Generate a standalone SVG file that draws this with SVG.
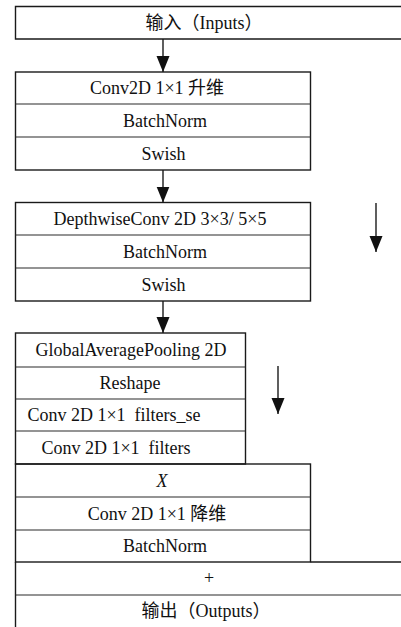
<svg xmlns="http://www.w3.org/2000/svg" width="401" height="627" viewBox="0 0 401 627">
<defs>
<style>
.ln{fill:none;stroke:#1a1a1a;stroke-width:1.4}
.sep{fill:none;stroke:#2a2a2a;stroke-width:1.2}
.t{font-family:"Liberation Serif","Noto Sans CJK SC",serif;font-size:18px;fill:#111;text-anchor:middle;white-space:pre}
.it{font-style:italic}
</style>
<marker id="ah" markerUnits="userSpaceOnUse" markerWidth="17" markerHeight="14" refX="16" refY="6.5" orient="auto">
<path d="M0,0 L16,6.5 L0,13 z" fill="#111"/>
</marker>
</defs>
<rect width="401" height="627" fill="#fff"/>
<g id="inputs">
<path class="ln" d="M401,6.5 H15.5 V39 H401"/>
<text class="t" x="204" y="28.5">输入（Inputs）</text>
</g>
<g id="expand">
<rect class="ln" x="15.5" y="72" width="295" height="98"/>
<path class="sep" d="M15.5,104 H310.5 M15.5,137 H310.5"/>
<text class="t" x="157" y="94">Conv2D 1×1 升维</text>
<text class="t" x="165" y="126.5">BatchNorm</text>
<text class="t" x="163.5" y="159.5">Swish</text>
</g>
<g id="depthwise">
<rect class="ln" x="15.5" y="202.5" width="295" height="98.5"/>
<path class="sep" d="M15.5,235 H310.5 M15.5,268 H310.5"/>
<text class="t" x="160" y="224.5">DepthwiseConv 2D 3×3/ 5×5</text>
<text class="t" x="165" y="257.5">BatchNorm</text>
<text class="t" x="163.5" y="290.5">Swish</text>
</g>
<g id="se">
<rect class="ln" x="15.5" y="333" width="230" height="131"/>
<path class="sep" d="M15.5,367 H245.5 M15.5,399 H245.5 M15.5,431 H245.5"/>
<text class="t" x="131" y="356">GlobalAveragePooling 2D</text>
<text class="t" x="130" y="389">Reshape</text>
<text class="t" x="114" y="421" xml:space="preserve">Conv 2D 1×1  filters_se</text>
<text class="t" x="116" y="453.5" xml:space="preserve">Conv 2D 1×1  filters</text>
</g>
<g id="project">
<rect class="ln" x="15.5" y="464" width="295" height="98"/>
<path class="sep" d="M15.5,497 H310.5 M15.5,530 H310.5"/>
<text class="t it" x="162" y="486.5">X</text>
<text class="t" x="157" y="519.5">Conv 2D 1×1 降维</text>
<text class="t" x="165" y="552">BatchNorm</text>
</g>
<g id="add">
<path class="ln" d="M15.5,562 V595 M310.5,562 H401"/>
<path class="sep" d="M15.5,595 H401"/>
<text class="t" x="209" y="584">+</text>
</g>
<g id="outputs">
<path class="ln" d="M15.5,595 V627"/>
<text class="t" x="206" y="617">输出（Outputs）</text>
</g>
<g id="connectors">
<line class="ln" x1="163" y1="39" x2="163" y2="72" marker-end="url(#ah)"/>
<line class="ln" x1="163" y1="170" x2="163" y2="202.5" marker-end="url(#ah)"/>
<line class="ln" x1="163" y1="301" x2="163" y2="333" marker-end="url(#ah)"/>
<line class="ln" x1="376" y1="203" x2="376" y2="252" marker-end="url(#ah)"/>
<line class="ln" x1="278" y1="366" x2="278" y2="414" marker-end="url(#ah)"/>
</g>
</svg>
